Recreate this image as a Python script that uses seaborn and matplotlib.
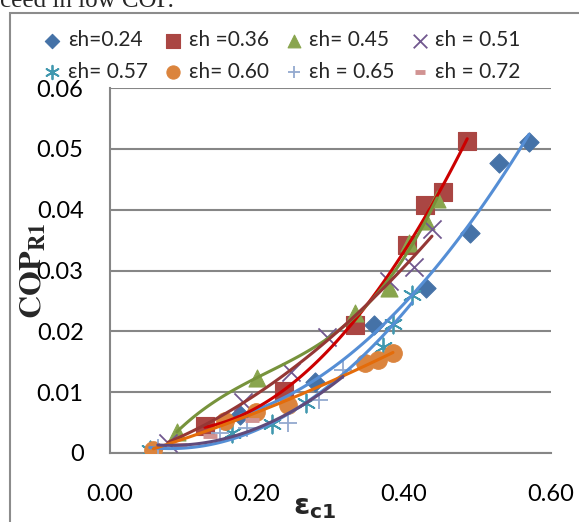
import numpy as np
import matplotlib
matplotlib.use("Agg")
import matplotlib.pyplot as plt
import matplotlib.patches as mpatches
import seaborn as sns

# eps_c1 vs COP_R1, one series per eps_h
labels = ["εh=0.24", "εh =0.36", "εh= 0.45", "εh = 0.51",
          "εh= 0.57", "εh= 0.60", "εh = 0.65", "εh = 0.72"]

x_024 = [0.177, 0.279, 0.359, 0.430, 0.490, 0.529, 0.570]
y_024 = [0.0062, 0.0117, 0.0211, 0.0271, 0.0362, 0.0477, 0.0512]
x_036 = [0.129, 0.237, 0.333, 0.404, 0.429, 0.453, 0.486]
y_036 = [0.0044, 0.0102, 0.0211, 0.0342, 0.0408, 0.0429, 0.0513]
x_045 = [0.091, 0.200, 0.333, 0.380, 0.407, 0.430, 0.445]
y_045 = [0.0035, 0.0123, 0.0230, 0.0272, 0.0346, 0.0382, 0.0418]
x_051 = [0.079, 0.181, 0.246, 0.295, 0.380, 0.413, 0.438]
y_051 = [0.0017, 0.0084, 0.0133, 0.0190, 0.0283, 0.0306, 0.0368]
x_057 = [0.054, 0.166, 0.220, 0.266, 0.371, 0.385, 0.411]
y_057 = [0.0005, 0.0033, 0.0047, 0.0083, 0.0174, 0.0212, 0.0260]
x_060 = [0.059, 0.156, 0.199, 0.242, 0.347, 0.365, 0.385]
y_060 = [0.0005, 0.0053, 0.0068, 0.0079, 0.0148, 0.0153, 0.0164]
x_065 = [0.065, 0.150, 0.186, 0.242, 0.284, 0.317]
y_065 = [0.0008, 0.0033, 0.0041, 0.0050, 0.0087, 0.0137]
x_072 = [0.095, 0.136, 0.193]
y_072 = [0.0013, 0.0028, 0.0055]

xs = [x_024, x_036, x_045, x_051, x_057, x_060, x_065, x_072]
ys = [y_024, y_036, y_045, y_051, y_057, y_060, y_065, y_072]

x_ticks = [0.0, 0.2, 0.4, 0.6]
x_ticklabels = ["0.00", "0.20", "0.40", "0.60"]
y_ticks = [0.0, 0.01, 0.02, 0.03, 0.04, 0.05, 0.06]
y_ticklabels = ["0", "0.01", "0.02", "0.03", "0.04", "0.05", "0.06"]

marker_colors = ["#4572A7", "#AA4643", "#89A54E", "#71588F",
                 "#4198AF", "#DB843D", "#93A9CF", "#D19392"]
markers = ["D", "s", "^", "x", (6, 2, 0), "o", "+", "_"]
sizes = [95, 180, 150, 170, 170, 160, 150, 110]
# trendline colours / polynomial order (None = no trendline)
trend_colors = ["#558ED5", "#CC0000", "#77933C", "#953735",
                "#558ED5", "#E46C0A", "#604A7B", None]
trend_order = [2, 2, 3, 2, 2, 2, 2, None]

sns.set_style("white")
plt.rcParams["font.family"] = ["Lato", "DejaVu Sans"]

fig = plt.figure(figsize=(5.79, 5.22), dpi=100)
ax = fig.add_axes([0.19, 0.1322, 0.7617, 0.6992])

handles = []
for i in range(len(labels)):
    c = marker_colors[i]
    kw = dict(x=xs[i], y=ys[i], marker=markers[i], s=sizes[i], color=c, ax=ax, zorder=3)
    if markers[i] in ["D", "s", "^", "o"]:
        kw["edgecolor"] = c
        kw["linewidth"] = 0.8
    elif markers[i] == "_":
        kw["linewidth"] = 3.5
    else:
        kw["linewidth"] = 1.3
    sns.scatterplot(**kw)
    handles.append(ax.collections[-1])

for i in range(len(labels)):
    if trend_colors[i] is None:
        continue
    sns.regplot(x=np.array(xs[i]), y=np.array(ys[i]), order=trend_order[i], ci=None,
                scatter=False, truncate=True, ax=ax,
                line_kws=dict(color=trend_colors[i], lw=2.2, zorder=4))

ax.set_xlim(0, 0.6)
ax.set_ylim(0, 0.06)
ax.set_xticks(x_ticks)
ax.set_xticklabels(x_ticklabels)
ax.set_yticks(y_ticks)
ax.set_yticklabels(y_ticklabels)
ax.yaxis.grid(True, color="#868686", lw=1.5)
ax.xaxis.grid(False)
ax.set_axisbelow(True)
for sp in ["top", "right"]:
    ax.spines[sp].set_visible(False)
for sp in ["left", "bottom"]:
    ax.spines[sp].set_color("#868686")
    ax.spines[sp].set_linewidth(1.5)
ax.tick_params(axis="both", direction="out", length=7, width=1.3, color="#868686",
               labelsize=17, labelcolor="black")
ax.tick_params(axis="y", pad=12)
ax.tick_params(axis="x", pad=15)

ax.set_xlabel(r"$\mathbf{\varepsilon_{c1}}$", fontsize=21, math_fontfamily="dejavusans")
ax.xaxis.set_label_coords(0.465, -0.115)
ax.set_ylabel(r"$\mathbf{COP_{R1}}$", fontsize=23, math_fontfamily="stix")
ax.yaxis.set_label_coords(-0.14, 0.5)

order = [0, 4, 1, 5, 2, 6, 3, 7]
fig.legend([handles[k] for k in order], [labels[k] for k in order], ncol=4,
           loc="upper left", bbox_to_anchor=(0.06, 0.958), frameon=False,
           fontsize=15, markerscale=0.75, handlelength=0.9, handletextpad=0.3,
           columnspacing=0.75, labelspacing=0.55, borderaxespad=0)

# outer chart frame and clipped text of the surrounding page
fig.add_artist(mpatches.Rectangle((10 / 579, -0.1), 1.0, 1.1 - 13 / 522,
                                  transform=fig.transFigure, fill=False,
                                  ec="#8c8c8c", lw=1.5))
fig.text(0.0, 1 - 7 / 522, "ceed in low COP.", fontsize=18,
         family="Liberation Serif", va="baseline", ha="left")

fig.savefig("out.png", dpi=100)
